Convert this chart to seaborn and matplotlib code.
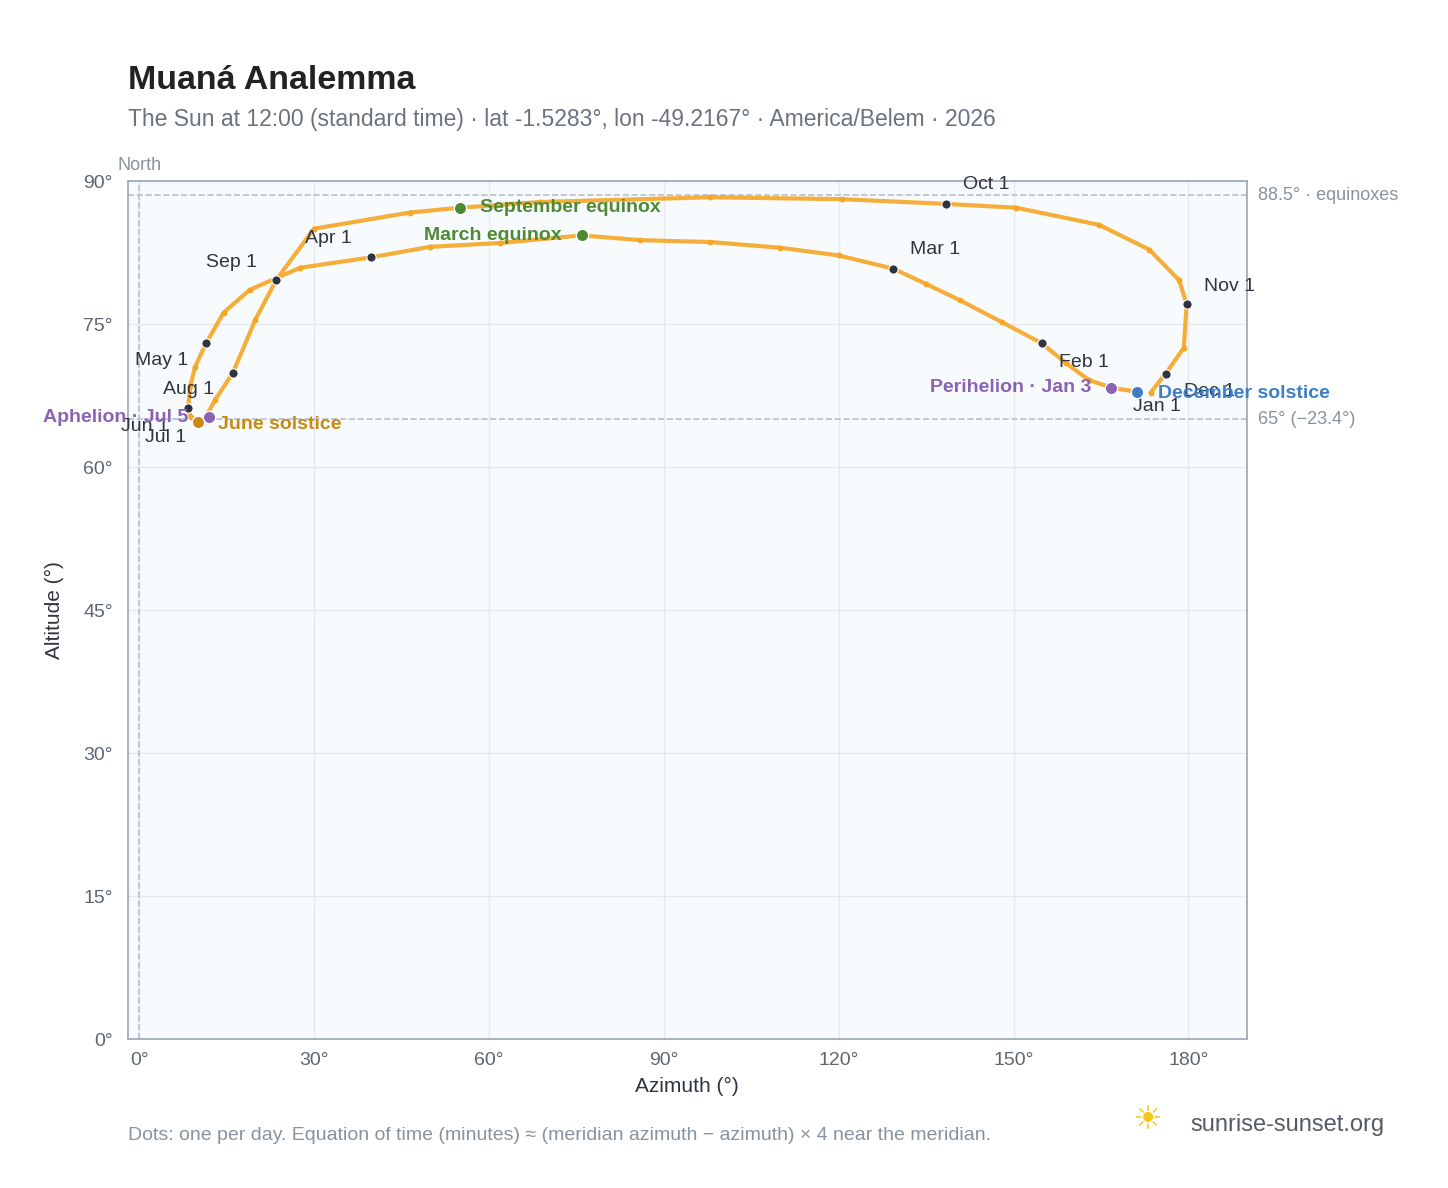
import numpy as np
import pandas as pd
import matplotlib
matplotlib.use("Agg")
import matplotlib.pyplot as plt
import seaborn as sns

# path of the noon sun (azimuth, altitude), Jan -> Dec
path_az = [171.1, 167.0, 163.0, 159.0, 154.8, 148.0, 140.8, 135.0, 129.4, 120.0, 110.0, 98.0,
           86.0, 75.9, 61.9, 49.9, 39.8, 27.6, 19.0, 14.5, 11.5, 9.6, 8.8, 8.4, 8.9, 10.1,
           11.2, 13.0, 16.1, 19.9, 23.5, 30.0, 46.5, 55.0, 68.7, 97.9, 120.5, 138.5, 150.5,
           164.7, 173.3, 178.4, 179.7, 179.2, 176.1, 173.5, 171.1]
path_alt = [67.9, 68.3, 69.1, 70.9, 73.0, 75.2, 77.5, 79.2, 80.8, 82.2, 83.0, 83.6,
            83.8, 84.3, 83.5, 83.1, 82.0, 80.9, 78.6, 76.2, 73.0, 70.5, 68.5, 66.2, 65.2, 64.7,
            65.0, 67.0, 69.9, 75.4, 79.6, 85.0, 86.7, 87.2, 87.8, 88.3, 88.1, 87.6, 87.2,
            85.4, 82.8, 79.6, 77.1, 72.5, 69.8, 67.8, 67.9]

months = ["Jan 1", "Feb 1", "Mar 1", "Apr 1", "May 1", "Jun 1", "Jul 1", "Aug 1",
          "Sep 1", "Oct 1", "Nov 1", "Dec 1"]
month_az = [171.1, 154.8, 129.4, 39.8, 11.5, 8.4, 10.1, 16.1, 23.5, 138.5, 179.7, 176.1]
month_alt = [67.9, 73.0, 80.8, 82.0, 73.0, 66.2, 64.7, 69.9, 79.6, 87.6, 77.1, 69.8]
# label offsets in pixels
month_off = [(-4, -15), (17, -19), (17, 19), (-66, 19), (-71, -17), (-67, -19), (-53, -15),
             (-70, -17), (-70, 18), (17, 19), (17, 18), (18, -18)]

events = ["March equinox", "September equinox", "June solstice", "December solstice",
          "Perihelion · Jan 3", "Aphelion · Jul 5"]
event_az = [75.9, 55.0, 10.1, 171.1, 166.8, 12.0]
event_alt = [84.3, 87.2, 64.7, 67.9, 68.3, 65.2]
event_col = ["#4e8a34", "#4e8a34", "#c98a12", "#3d7ec4", "#8a63b5", "#8a63b5"]
event_off = [(-20, 0, "right"), (20, 0, "left"), (20, -2, "left"), (21, -2, "left"),
             (-20, 0, "right"), (-21, 0, "right")]

sns.set_theme(style="white")
plt.rcParams["font.family"] = ["Liberation Sans", "DejaVu Sans"]

fig = plt.figure(figsize=(14.48, 11.88), dpi=100)
ax = fig.add_axes([0.0884, 0.1254, 0.7726, 0.7222])
ax.set_facecolor("#f8fbfe")

df = pd.DataFrame({"az": path_az, "alt": path_alt})
sns.lineplot(data=df, x="az", y="alt", sort=False, color="#f5a623", lw=3, ax=ax, alpha=0.9)
sns.scatterplot(data=df, x="az", y="alt", color="#f5a623", s=18, linewidth=0, ax=ax, zorder=3)

for lab, x, y, (dx, dy) in zip(months, month_az, month_alt, month_off):
    ax.scatter(x, y, s=45, color="#2f3440", edgecolor="white", linewidth=0.8, zorder=5)
    ax.annotate(lab, (x, y), xytext=(dx, dy), textcoords="offset pixels",
                fontsize=14, color="#2f3440", va="center", zorder=6)

for lab, x, y, c, (dx, dy, ha) in zip(events, event_az, event_alt, event_col, event_off):
    ax.scatter(x, y, s=80, color=c, edgecolor="white", linewidth=1, zorder=6)
    ax.annotate(lab, (x, y), xytext=(dx, dy), textcoords="offset pixels", ha=ha,
                fontsize=14, color=c, fontweight="bold", va="center", zorder=7)

for yv in (88.5, 65):
    ax.axhline(yv, color="#b8c0ca", ls="--", lw=1.2, zorder=1)
ax.axvline(0, color="#b8c0ca", ls="--", lw=1.2, zorder=1)
ax.text(1.01, 88.5, "88.5° · equinoxes", transform=ax.get_yaxis_transform(),
        fontsize=13, color="#8a929c", va="center")
ax.text(1.01, 65, "65° (−23.4°)", transform=ax.get_yaxis_transform(),
        fontsize=13, color="#8a929c", va="center")
ax.text(0, 91.2, "North", ha="center", fontsize=13, color="#8a929c")

ax.set_xlim(-1.9, 190)
ax.set_ylim(0, 90)
ax.set_xticks(range(0, 181, 30))
ax.set_xticklabels([f"{v}°" for v in range(0, 181, 30)])
ax.set_yticks(range(0, 91, 15))
ax.set_yticklabels([f"{v}°" for v in range(0, 91, 15)])
ax.tick_params(labelsize=14, colors="#5f6670", length=5, color="#9aa5b4", pad=4)
ax.tick_params(axis="y", pad=6)
ax.grid(True, color="#e6e9ee", lw=1)
for s in ax.spines.values():
    s.set_color("#9aa5b4")
    s.set_linewidth(1.2)
ax.set_xlabel("Azimuth (°)", fontsize=15, color="#2f3440", labelpad=6)
ax.set_ylabel("Altitude (°)", fontsize=15, color="#2f3440", labelpad=14)

fig.text(0.0884, 0.925, "Muaná Analemma", fontsize=24.5, fontweight="bold", color="#222222")
fig.text(0.0884, 0.894, "The Sun at 12:00 (standard time) · lat -1.5283°, lon -49.2167° · America/Belem · 2026",
         fontsize=16.5, color="#6b7280")
fig.text(0.0884, 0.04, "Dots: one per day. Equation of time (minutes) ≈ (meridian azimuth − azimuth) × 4 near the meridian.",
         fontsize=14, color="#8a929c")
fig.text(0.822, 0.053, "sunrise-sunset.org", fontsize=17, color="#555b66", va="center")
fig.text(0.792, 0.056, "☀", fontsize=24, color="#f5c518", ha="center", va="center")

fig.savefig("out.png", dpi=100)
